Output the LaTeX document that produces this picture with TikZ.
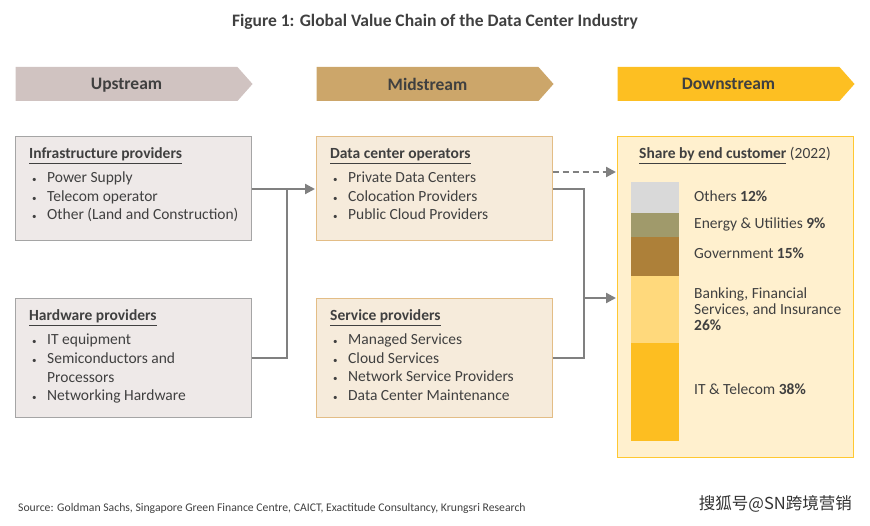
\documentclass[tikz,border=0pt]{standalone}
\usepackage{fontspec}
\setmainfont{Carlito}
\newfontfamily\cjkfont{Noto Sans CJK SC}
\usetikzlibrary{shapes.symbols, positioning, arrows.meta}

\definecolor{txt}{HTML}{404040}
\definecolor{linegray}{HTML}{808080}
\definecolor{upfill}{HTML}{D0C3C1}
\definecolor{midfill}{HTML}{CCA66A}
\definecolor{downfill}{HTML}{FDBF22}
\definecolor{upbox}{HTML}{EEE9E8}
\definecolor{upline}{HTML}{A5A5A5}
\definecolor{midbox}{HTML}{F6EBDB}
\definecolor{midline}{HTML}{E3BD86}
\definecolor{downbox}{HTML}{FFF0CE}
\definecolor{downline}{HTML}{FFC832}
\definecolor{segothers}{HTML}{D9D9D9}
\definecolor{segenergy}{HTML}{A09A6B}
\definecolor{seggov}{HTML}{AD8039}
\definecolor{segbank}{HTML}{FFD97C}
\definecolor{segit}{HTML}{FDBE21}

\newcommand\bul[1]{\makebox[15pt][l]{\fontsize{9}{9}\selectfont\textbullet}#1}
\newcommand\hd[1]{\underline{\textbf{#1}}}

\begin{document}
\begin{tikzpicture}[x=1pt, y=-1pt,
	stage/.style={signal, signal to=east, signal pointer angle=97, minimum width=237pt,
		minimum height=34pt, inner sep=0pt, text depth=0pt, text=txt,
		font=\fontsize{17.5}{20}\selectfont\bfseries},
	panel/.style={draw, line width=1pt, minimum width=236pt, inner sep=0pt},
	heading/.style={anchor=mid west, inner sep=0pt, yshift=-2.5pt, text=txt, font=\fontsize{15.5}{18}\selectfont},
	item/.style={anchor=mid west, inner sep=0pt, yshift=-2.5pt, text=txt, font=\fontsize{15.5}{18}\selectfont},
	line/.style={draw=linegray, line width=2.2pt},
	link/.style={line, -{Triangle[length=10pt, width=10pt]}, shorten >=0.5pt}]
	\useasboundingbox (0,0) rectangle (870,526);

	\node[text=txt, yshift=-2pt, font=\fontsize{17.5}{20}\selectfont\bfseries] (title) at (435,20)
		{Figure 1: Global Value Chain of the Data Center Industry};

	% stage headers
	\node[stage, fill=upfill] (up) at (126.5,84) {Upstream};
	\node[stage, fill=midfill] (mid) at (427.5,84) {Midstream};
	\node[stage, fill=downfill] (down) at (728.5,84) {Downstream};

	% upstream panels
	\node[panel, draw=upline, fill=upbox, minimum height=104pt] (infra) at (133,189) {};
	\node[heading] (infra-hd) at (29,154) {\hd{Infrastructure providers}};
	\foreach \t [count=\i] in {Power Supply, Telecom operator, Other (Land and Construction)}
		\node[item] (infra-\i) at (32,159.5+18.5*\i) {\bul{\t}};

	\node[panel, draw=upline, fill=upbox, minimum height=118pt] (hw) at (133,358) {};
	\node[heading] (hw-hd) at (29,316) {\hd{Hardware providers}};
	\node[item] (hw-1) at (32,340) {\bul{IT equipment}};
	\node[item] (hw-2) at (32,359) {\bul{Semiconductors and}};
	\node[item] (hw-3) at (47,377.5) {Processors};
	\node[item] (hw-4) at (32,396) {\bul{Networking Hardware}};

	% midstream panels
	\node[panel, draw=midline, fill=midbox, minimum height=104pt] (dco) at (434,189) {};
	\node[heading] (dco-hd) at (330,154) {\hd{Data center operators}};
	\foreach \t [count=\i] in {Private Data Centers, Colocation Providers, Public Cloud Providers}
		\node[item] (dco-\i) at (333,159.5+18.5*\i) {\bul{\t}};

	\node[panel, draw=midline, fill=midbox, minimum height=118pt] (svc) at (434,358) {};
	\node[heading] (svc-hd) at (330,316) {\hd{Service providers}};
	\foreach \t [count=\i] in {Managed Services, Cloud Services, Network Service Providers, Data Center Maintenance}
		\node[item] (svc-\i) at (333,321.5+18.5*\i) {\bul{\t}};

	% downstream panel
	\node[panel, draw=downline, fill=downbox, minimum height=320pt] (share) at (735,297) {};
	\node[heading, anchor=mid] (share-hd) at (735,154) {\hd{Share by end customer} (2022)};

	\foreach \ya/\yb/\c in {182/213/segothers, 213/237/segenergy, 237/276/seggov, 276/343/segbank, 343/441/segit}
		\fill[\c] (631,\ya) rectangle (679,\yb);

	\node[item] (lab-others) at (694,197) {Others \textbf{12\%}};
	\node[item] (lab-energy) at (694,224) {Energy \& Utilities \textbf{9\%}};
	\node[item] (lab-gov) at (694,254) {Government \textbf{15\%}};
	\node[item, anchor=west, yshift=0pt, align=left, font=\fontsize{15.5}{16}\selectfont] (lab-bank) at (694,306.5)
		{Banking, Financial\\Services, and Insurance\\\textbf{26\%}};
	\node[item] (lab-it) at (694,390) {IT \& Telecom \textbf{38\%}};

	% connectors
	\coordinate (upjoin) at (287,189);
	\coordinate (midjoin) at (584,298);
	\draw[link] (infra.east) -- (dco.west);
	\draw[line] (hw.east) -| (upjoin);
	\draw[line] (dco.east) -| (midjoin);
	\draw[line] (svc.east) -| (midjoin);
	\draw[link] (midjoin) -- (share.west |- midjoin);
	\coordinate (dashstart) at ([yshift=17pt]dco.east);
	\draw[link, dash pattern=on 6pt off 4pt] (dashstart) -- (share.west |- dashstart);

	% footer
	\node[anchor=mid west, inner sep=0pt, yshift=-2pt, text=txt, font=\fontsize{11.7}{13}\selectfont] (source) at (18,507)
		{Source: Goldman Sachs, Singapore Green Finance Centre, CAICT, Exactitude Consultancy, Krungsri Research};
	\node[anchor=mid east, inner sep=0pt, text=black!80, font=\fontsize{16.5}{18}\selectfont\cjkfont] (mark) at (852,507)
		{搜狐号@SN跨境营销};
\end{tikzpicture}
\end{document}
